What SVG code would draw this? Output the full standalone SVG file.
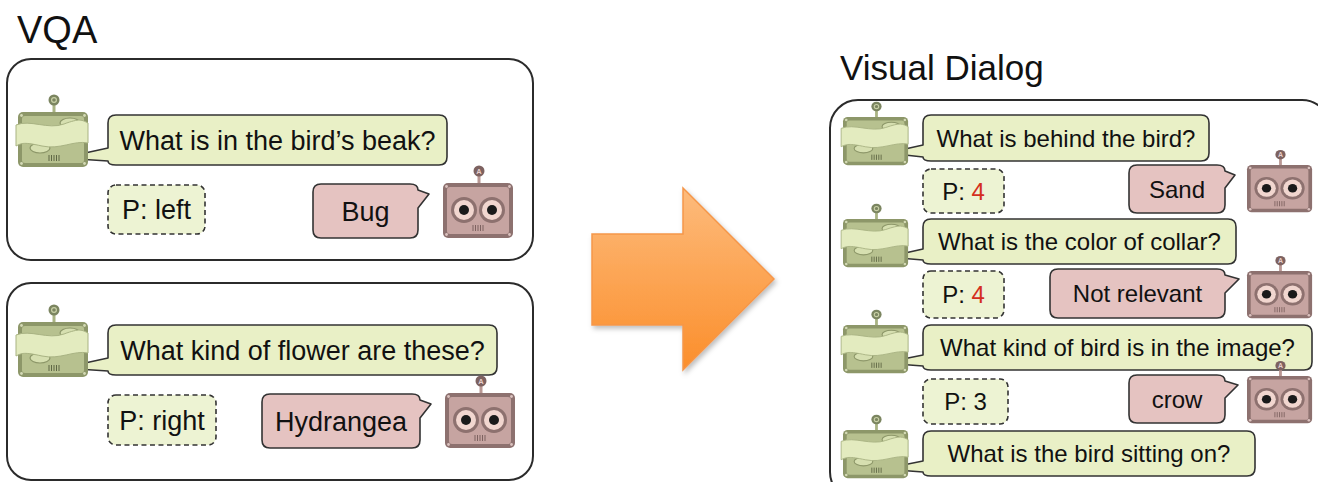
<svg xmlns="http://www.w3.org/2000/svg" xmlns:xlink="http://www.w3.org/1999/xlink" width="1318" height="482" viewBox="0 0 1318 482">
  <style>
    .panel { fill: #ffffff; stroke: #2b2b2b; stroke-width: 2; }
    .title { font-family: "Liberation Sans", Arial, sans-serif; fill: #111; }
    .q { fill: #e9f0c6; stroke: #333; stroke-width: 1.6; stroke-linejoin: round; }
    .a { fill: #e5c3c1; stroke: #333; stroke-width: 1.6; stroke-linejoin: round; }
    .p { fill: #edf3d3; stroke: #333; stroke-width: 1.6; stroke-dasharray: 5 3.5; }
    .t { font-family: "Liberation Sans", Arial, sans-serif; fill: #111; text-anchor: middle; }
    .big { font-size: 27px; }
    .small { font-size: 24px; }
    .red { fill: #d42f1e; }
  </style>
  <defs>
    <linearGradient id="arrowFill" x1="0" y1="0" x2="0" y2="1">
      <stop offset="0" stop-color="#fdbb7c"/>
      <stop offset="1" stop-color="#fb8e2b"/>
    </linearGradient>
    <filter id="arrowShadow" x="-10%" y="-10%" width="125%" height="125%">
      <feDropShadow dx="2" dy="3" stdDeviation="2.5" flood-color="#000" flood-opacity="0.25"/>
    </filter>
    <!-- question bot: body origin at top-left, 70 x 55 -->
    <g id="qbot">
      <rect x="34.5" y="-8" width="3" height="9" fill="#a9b383"/>
      <circle cx="36" cy="-12" r="5.5" fill="#7b8560"/>
      <circle cx="36" cy="-12" r="2.4" fill="none" stroke="#c9d1a6" stroke-width="1.2"/>
      <rect x="0" y="0" width="70" height="55" rx="5" fill="#8d9769"/>
      <rect x="4" y="4" width="62" height="47" rx="3" fill="#b7c18f"/>
      <ellipse cx="52" cy="11" rx="10" ry="5" fill="#d6dfb0" stroke="#8d9769" stroke-width="1.2"/>
      <ellipse cx="22" cy="36" rx="10" ry="5" fill="#d6dfb0" stroke="#8d9769" stroke-width="1.2"/>
      <path d="M-2,13 C12,7 30,18 46,12 S64,8 70,11 L70,31 C56,28 42,38 24,34 S4,31 -2,34 Z" fill="#e3ebbf" stroke="#a9b383" stroke-width="1"/>
      <g stroke="#5f6745" stroke-width="1">
        <line x1="31" y1="43" x2="31" y2="49"/>
        <line x1="33.5" y1="43" x2="33.5" y2="49"/>
        <line x1="36" y1="43" x2="36" y2="49"/>
        <line x1="38.5" y1="43" x2="38.5" y2="49"/>
        <line x1="41" y1="43" x2="41" y2="49"/>
      </g>
      <g fill="#d4dab5">
        <circle cx="3.5" cy="3.5" r="1.4"/>
        <circle cx="66.5" cy="3.5" r="1.4"/>
        <circle cx="3.5" cy="51.5" r="1.4"/>
        <circle cx="66.5" cy="51.5" r="1.4"/>
      </g>
    </g>
    <!-- answer bot: body origin at top-left, 70 x 55 -->
    <g id="abot">
      <rect x="34.5" y="-8" width="3" height="9" fill="#b99894"/>
      <circle cx="36" cy="-12" r="5.5" fill="#7d6260"/>
      <text x="36" y="-9.3" font-family="Liberation Sans, Arial, sans-serif" font-size="7.5" font-weight="bold" fill="#e8cfcc" text-anchor="middle">A</text>
      <rect x="0" y="0" width="70" height="55" rx="5" fill="#8d716f"/>
      <rect x="4" y="4" width="62" height="47" rx="3" fill="#c6a4a1"/>
      <circle cx="21" cy="27" r="13" fill="#8d716f"/>
      <circle cx="21" cy="27" r="10" fill="#f1d6cf"/>
      <circle cx="21" cy="27" r="5" fill="#1a1a1a"/>
      <circle cx="49" cy="27" r="13" fill="#8d716f"/>
      <circle cx="49" cy="27" r="10" fill="#f1d6cf"/>
      <circle cx="49" cy="27" r="5" fill="#1a1a1a"/>
      <g stroke="#7d6260" stroke-width="1">
        <line x1="30" y1="42" x2="30" y2="48"/>
        <line x1="32.5" y1="42" x2="32.5" y2="48"/>
        <line x1="35" y1="42" x2="35" y2="48"/>
        <line x1="37.5" y1="42" x2="37.5" y2="48"/>
        <line x1="40" y1="42" x2="40" y2="48"/>
      </g>
      <g fill="#dcc3c0">
        <circle cx="3.5" cy="3.5" r="1.4"/>
        <circle cx="66.5" cy="3.5" r="1.4"/>
        <circle cx="3.5" cy="51.5" r="1.4"/>
        <circle cx="66.5" cy="51.5" r="1.4"/>
      </g>
    </g>
  </defs>

  <rect width="1318" height="482" fill="#ffffff"/>

  <!-- titles -->
  <text class="title" x="17" y="43" font-size="38">VQA</text>
  <text class="title" x="840" y="80" font-size="35">Visual Dialog</text>

  <!-- VQA example 1 -->
  <g id="vqa-panel-1">
    <rect class="panel" x="7" y="59" width="526" height="201" rx="24"/>
    <g id="vqa1-question">
      <path class="q" d="M116,115 H439 Q447,115 447,123 V157 Q447,165 439,165 H116 Q108,165 108,161 L62,158 L108,148 V123 Q108,115 116,115 Z"/>
      <text class="t big" x="277.5" y="149.5">What is in the bird’s beak?</text>
    </g>
    <g id="vqa1-pred">
      <rect class="p" x="108" y="185" width="97" height="49" rx="8"/>
      <text class="t big" x="156.5" y="219">P: left</text>
    </g>
    <g id="vqa1-answer">
      <path class="a" d="M321,184 H410 Q418,184 418,190 L429,194 L418,208 V230 Q418,238 410,238 H321 Q313,238 313,230 V192 Q313,184 321,184 Z"/>
      <text class="t big" x="365.5" y="220.5">Bug</text>
    </g>
    <use id="vqa1-qbot" xlink:href="#qbot" transform="translate(18,112)"/>
    <use id="vqa1-abot" xlink:href="#abot" transform="translate(443,183)"/>
  </g>

  <!-- VQA example 2 -->
  <g id="vqa-panel-2">
    <rect class="panel" x="7" y="283" width="526" height="197" rx="24"/>
    <g id="vqa2-question">
      <path class="q" d="M116,325 H489 Q497,325 497,333 V367 Q497,375 489,375 H116 Q108,375 108,371 L62,368 L108,358 V333 Q108,325 116,325 Z"/>
      <text class="t big" x="302.5" y="359.5">What kind of flower are these?</text>
    </g>
    <g id="vqa2-pred">
      <rect class="p" x="108" y="395" width="108" height="50" rx="8"/>
      <text class="t big" x="162" y="429.5">P: right</text>
    </g>
    <g id="vqa2-answer">
      <path class="a" d="M270,394 H412 Q420,394 420,400 L431,404 L420,418 V440 Q420,448 412,448 H270 Q262,448 262,440 V402 Q262,394 270,394 Z"/>
      <text class="t big" x="341" y="430.5">Hydrangea</text>
    </g>
    <use id="vqa2-qbot" xlink:href="#qbot" transform="translate(18,322)"/>
    <use id="vqa2-abot" xlink:href="#abot" transform="translate(445,393)"/>
  </g>

  <!-- transition arrow -->
  <g id="connectors">
    <polygon points="592,234 683,234 683,188 774,279 683,370 683,325 592,325" fill="url(#arrowFill)" stroke="#f5964a" stroke-width="1.5" stroke-linejoin="miter" filter="url(#arrowShadow)"/>
  </g>

  <!-- Visual Dialog example -->
  <g id="dialog-panel">
    <rect class="panel" x="830" y="100" width="500" height="400" rx="28"/>

    <g id="round-1">
      <g id="d1-question">
        <path class="q" d="M931,115 H1201 Q1209,115 1209,123 V153 Q1209,161 1201,161 H931 Q923,161 923,157 L887,153 L923,145 V123 Q923,115 931,115 Z"/>
        <text class="t small" x="1066" y="146.5">What is behind the bird?</text>
      </g>
      <g id="d1-pred">
        <rect class="p" x="923" y="169" width="81" height="44" rx="8"/>
        <text class="t small" x="963.5" y="199.5">P: <tspan class="red">4</tspan></text>
      </g>
      <g id="d1-answer">
        <path class="a" d="M1137,165 H1217 Q1225,165 1225,171 L1235,175 L1225,188 V205 Q1225,213 1217,213 H1137 Q1129,213 1129,205 V173 Q1129,165 1137,165 Z"/>
        <text class="t small" x="1177" y="197.5">Sand</text>
      </g>
      <use xlink:href="#qbot" transform="translate(843,117) scale(0.93,0.875)"/>
    </g>

    <g id="round-2">
      <g id="d2-question">
        <path class="q" d="M931,219 H1228 Q1236,219 1236,227 V256 Q1236,264 1228,264 H931 Q923,264 923,260 L887,257 L923,249 V227 Q923,219 931,219 Z"/>
        <text class="t small" x="1079.5" y="250">What is the color of collar?</text>
      </g>
      <g id="d2-pred">
        <rect class="p" x="923" y="271" width="81" height="47" rx="8"/>
        <text class="t small" x="963.5" y="303">P: <tspan class="red">4</tspan></text>
      </g>
      <g id="d2-answer">
        <path class="a" d="M1058,269 H1217 Q1225,269 1225,275 L1239,279 L1225,293 V310 Q1225,318 1217,318 H1058 Q1050,318 1050,310 V277 Q1050,269 1058,269 Z"/>
        <text class="t small" x="1137.5" y="302">Not relevant</text>
      </g>
      <use xlink:href="#qbot" transform="translate(843,219) scale(0.93,0.875)"/>
    </g>

    <g id="round-3">
      <g id="d3-question">
        <path class="q" d="M931,325 H1304 Q1312,325 1312,333 V362 Q1312,370 1304,370 H931 Q923,370 923,366 L883,363 L923,355 V333 Q923,325 931,325 Z"/>
        <text class="t small" x="1117.5" y="356">What kind of bird is in the image?</text>
      </g>
      <g id="d3-pred">
        <rect class="p" x="923" y="379" width="85" height="45" rx="8"/>
        <text class="t small" x="965.5" y="410">P: 3</text>
      </g>
      <g id="d3-answer">
        <path class="a" d="M1137,375 H1217 Q1225,375 1225,381 L1238,385 L1225,398 V415 Q1225,423 1217,423 H1137 Q1129,423 1129,415 V383 Q1129,375 1137,375 Z"/>
        <text class="t small" x="1177" y="407.5">crow</text>
      </g>
      <use xlink:href="#qbot" transform="translate(843,325) scale(0.93,0.875)"/>
    </g>

    <g id="round-4">
      <g id="d4-question">
        <path class="q" d="M931,431 H1247 Q1255,431 1255,439 V468 Q1255,476 1247,476 H931 Q923,476 923,472 L883,469 L923,461 V439 Q923,431 931,431 Z"/>
        <text class="t small" x="1089" y="462">What is the bird sitting on?</text>
      </g>
      <use xlink:href="#qbot" transform="translate(843,430) scale(0.93,0.875)"/>
    </g>

    <!-- answer bots drawn last so their antennae sit over the bubbles -->
    <use id="d1-abot" xlink:href="#abot" transform="translate(1247,165) scale(0.93,0.86)"/>
    <use id="d2-abot" xlink:href="#abot" transform="translate(1247,271) scale(0.93,0.86)"/>
    <use id="d3-abot" xlink:href="#abot" transform="translate(1247,376) scale(0.93,0.86)"/>
  </g>
</svg>
